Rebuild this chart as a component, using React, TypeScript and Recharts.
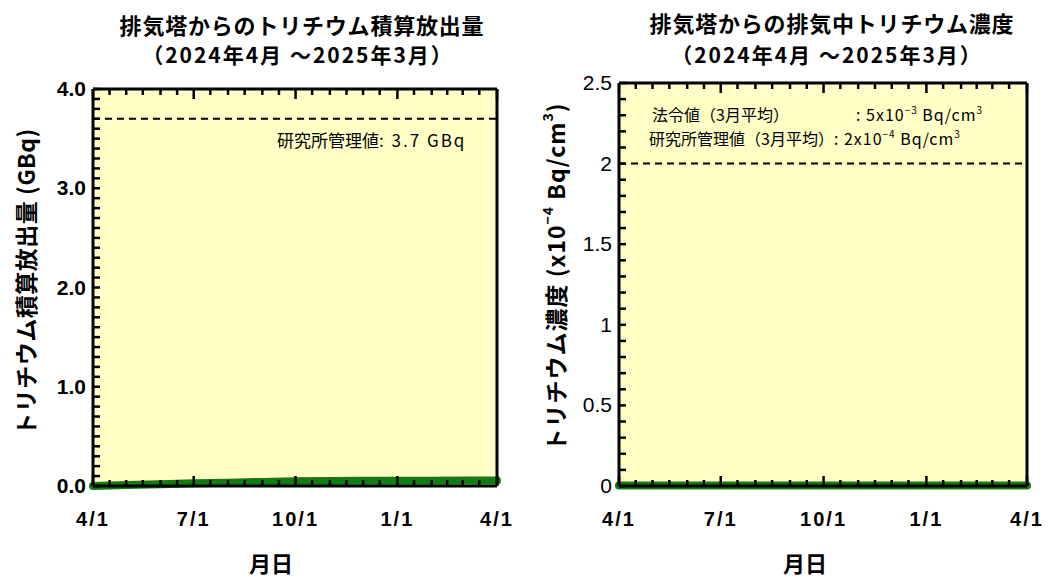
import React from 'react';
import { LineChart, Line, XAxis, YAxis, CartesianGrid, ReferenceLine } from 'recharts';

// Days since 2024-04-01 for the first of each month
const dayOffsets = [0, 30, 61, 91, 122, 153, 183, 214, 244, 275, 306, 334, 365];
// Cumulative tritium release (GBq)
const cumulativeRelease = [0, 0.009, 0.018, 0.027, 0.034, 0.041, 0.047, 0.05, 0.052, 0.053, 0.054, 0.055, 0.056];
// Tritium concentration (x10^-4 Bq/cm3)
const concentration = [0.003, 0.003, 0.003, 0.003, 0.003, 0.003, 0.003, 0.003, 0.003, 0.003, 0.003, 0.003, 0.003];

const xMinorTicks = [0, 15, 30, 45, 61, 76, 91, 106, 122, 137, 153, 168, 183, 198, 214, 229, 244, 259, 275, 290, 306, 320, 334, 349, 365];
const xMajorTicks = [0, 91, 183, 275, 365];
const xTickLabels = ['4/1', '7/1', '10/1', '1/1', '4/1'];

const leftYMajor = [0, 1, 2, 3, 4];
const leftYTickLabels = ['0.0', '1.0', '2.0', '3.0', '4.0'];
const rightYMajor = [0, 0.5, 1, 1.5, 2, 2.5];
const rightYTickLabels = ['0', '0.5', '1', '1.5', '2', '2.5'];

const releaseLimit = 3.7;
const concentrationLimit = 2;

const leftYTicks = Array.from({ length: 41 }, (_, i) => Math.round(i) / 10);
const rightYTicks = Array.from({ length: 26 }, (_, i) => Math.round(i) / 10);

const releaseData = dayOffsets.map((d, i) => ({ day: d, value: cumulativeRelease[i] }));
const concData = dayOffsets.map((d, i) => ({ day: d, value: concentration[i] }));

const BG = '#FFFFC6';
const GREEN = '#157a15';
const NUM_FONT = '"Liberation Sans", Arial, sans-serif';
const JP_FONT = '"Noto Sans CJK JP", "Noto Sans", sans-serif';

const near = (a: number, b: number) => Math.abs(a - b) < 1e-6;

const makeBottomTick = (fontWeight: any) => (props: any) => {
  const { x, y, payload } = props;
  const idx = xMajorTicks.findIndex((v) => near(v, payload.value));
  const major = idx >= 0;
  return (
    <g>
      <line x1={x} x2={x} y1={y} y2={y - (major ? 10 : 6)} stroke="#000" strokeWidth={2.5} />
      {major && (
        <text x={x} y={y + 40} textAnchor="middle" fontFamily={NUM_FONT} fontSize={20} fontWeight={fontWeight} fill="#000" letterSpacing={2}>
          {xTickLabels[idx]}
        </text>
      )}
    </g>
  );
};

const TopTick = (props: any) => {
  const { x, y, payload } = props;
  const major = xMajorTicks.some((v) => near(v, payload.value));
  return <line x1={x} x2={x} y1={y} y2={y + (major ? 10 : 6)} stroke="#000" strokeWidth={2.5} />;
};

const makeLeftTick = (majors: number[], labels: string[], fontWeight: any) => (props: any) => {
  const { x, y, payload } = props;
  const idx = majors.findIndex((v) => near(v, payload.value));
  return (
    <g>
      <line x1={x} x2={x + 7} y1={y} y2={y} stroke="#000" strokeWidth={2.5} />
      {idx >= 0 && (
        <text x={x - 7} y={y + 7} textAnchor="end" fontFamily={NUM_FONT} fontSize={21} fontWeight={fontWeight} fill="#000">
          {labels[idx]}
        </text>
      )}
    </g>
  );
};

const RightTick = (props: any) => {
  const { x, y } = props;
  return <line x1={x} x2={x - 7} y1={y} y2={y} stroke="#000" strokeWidth={2.5} />;
};

const axisLine = { stroke: '#000', strokeWidth: 3 };

const abs = (extra: React.CSSProperties): React.CSSProperties => ({
  position: 'absolute',
  whiteSpace: 'nowrap',
  color: '#000',
  lineHeight: 1,
  ...extra,
});

const centered = (cx: number, cy: number, extra: React.CSSProperties = {}): React.CSSProperties =>
  abs({ left: cx, top: cy, transform: 'translate(-50%, -50%)', ...extra });

const rotated = (cx: number, cy: number, extra: React.CSSProperties = {}): React.CSSProperties =>
  abs({ left: cx, top: cy, transform: 'translate(-50%, -50%) rotate(-90deg)', ...extra });

const supStyle: React.CSSProperties = { fontSize: 10, lineHeight: 1, verticalAlign: 'top', position: 'relative', top: -1 };
const supStyleBig: React.CSSProperties = { fontSize: 14, lineHeight: 1, verticalAlign: 'top', position: 'relative', top: -4 };

export default function App() {
  return (
    <div style={{ position: 'absolute', left: 0, top: 0, width: 1048, height: 577, background: '#fff', fontFamily: JP_FONT, overflow: 'hidden' }}>
      {/* Left chart */}
      <div style={{ position: 'absolute', left: 0, top: 0 }}>
        <LineChart width={524} height={577} data={releaseData} margin={{ top: 88, right: 26, bottom: 51, left: 0 }}>
          <CartesianGrid fill={BG} stroke="none" horizontal={false} vertical={false} />
          <XAxis xAxisId="b" dataKey="day" type="number" domain={[0, 365]} ticks={xMinorTicks} interval={0} orientation="bottom" height={40} tickSize={0} tickMargin={0} tickLine={false} axisLine={axisLine} tick={makeBottomTick('bold')} />
          <XAxis xAxisId="t" dataKey="day" type="number" domain={[0, 365]} ticks={xMinorTicks} interval={0} orientation="top" height={1} tickSize={0} tickMargin={0} tickLine={false} axisLine={axisLine} tick={TopTick} />
          <YAxis yAxisId="l" type="number" domain={[0, 4]} ticks={leftYTicks} interval={0} orientation="left" width={93} tickSize={0} tickMargin={0} tickLine={false} axisLine={axisLine} tick={makeLeftTick(leftYMajor, leftYTickLabels, 'bold')} />
          <YAxis yAxisId="r" type="number" domain={[0, 4]} ticks={leftYTicks} interval={0} orientation="right" width={1} tickSize={0} tickMargin={0} tickLine={false} axisLine={axisLine} tick={RightTick} />
          <ReferenceLine xAxisId="b" yAxisId="l" y={releaseLimit} stroke="#000" strokeWidth={2} strokeDasharray="7 5" />
          <Line xAxisId="b" yAxisId="l" type="linear" dataKey="value" stroke={GREEN} strokeWidth={8} strokeLinecap="round" dot={false} isAnimationActive={false} />
        </LineChart>
      </div>

      {/* Right chart */}
      <div style={{ position: 'absolute', left: 524, top: 0 }}>
        <LineChart width={524} height={577} data={concData} margin={{ top: 82, right: 20, bottom: 51, left: 0 }}>
          <CartesianGrid fill={BG} stroke="none" horizontal={false} vertical={false} />
          <XAxis xAxisId="b" dataKey="day" type="number" domain={[0, 365]} ticks={xMinorTicks} interval={0} orientation="bottom" height={40} tickSize={0} tickMargin={0} tickLine={false} axisLine={axisLine} tick={makeBottomTick('bold')} />
          <XAxis xAxisId="t" dataKey="day" type="number" domain={[0, 365]} ticks={xMinorTicks} interval={0} orientation="top" height={1} tickSize={0} tickMargin={0} tickLine={false} axisLine={axisLine} tick={TopTick} />
          <YAxis yAxisId="l" type="number" domain={[0, 2.5]} ticks={rightYTicks} interval={0} orientation="left" width={95} tickSize={0} tickMargin={0} tickLine={false} axisLine={axisLine} tick={makeLeftTick(rightYMajor, rightYTickLabels, 'normal')} />
          <YAxis yAxisId="r" type="number" domain={[0, 2.5]} ticks={rightYTicks} interval={0} orientation="right" width={1} tickSize={0} tickMargin={0} tickLine={false} axisLine={axisLine} tick={RightTick} />
          <ReferenceLine xAxisId="b" yAxisId="l" y={concentrationLimit} stroke="#000" strokeWidth={2} strokeDasharray="7 5" />
          <Line xAxisId="b" yAxisId="l" type="linear" dataKey="value" stroke={GREEN} strokeWidth={8} strokeLinecap="round" dot={false} isAnimationActive={false} />
        </LineChart>
      </div>

      {/* Titles */}
      <div style={centered(302, 24, { fontSize: 22, fontWeight: 'bold', letterSpacing: 0.8 })}>排気塔からのトリチウム積算放出量</div>
      <div style={centered(298, 54, { fontSize: 21, fontWeight: 'bold', letterSpacing: 2 })}>（2024年4月 ～2025年3月）</div>
      <div style={centered(832, 22, { fontSize: 22, fontWeight: 'bold', letterSpacing: 0.8 })}>排気塔からの排気中トリチウム濃度</div>
      <div style={centered(827, 54, { fontSize: 21, fontWeight: 'bold', letterSpacing: 2 })}>（2024年4月 ～2025年3月）</div>

      {/* Y axis labels */}
      <div style={rotated(25, 282, { fontSize: 23, fontWeight: 'bold', letterSpacing: 0.5 })}>トリチウム積算放出量 (GBq)</div>
      <div style={rotated(555, 277, { fontSize: 23, fontWeight: 'bold', letterSpacing: 1 })}>
        トリチウム濃度 (x10<sup style={supStyleBig}>−4</sup> Bq/cm<sup style={supStyleBig}>3</sup>)
      </div>

      {/* X axis labels */}
      <div style={centered(271, 562, { fontSize: 22, fontWeight: 'bold' })}>月日</div>
      <div style={centered(805, 562, { fontSize: 22, fontWeight: 'bold' })}>月日</div>

      {/* Annotations */}
      <div style={abs({ left: 277, top: 131, fontSize: 17 })}>
        研究所管理値<span style={{ letterSpacing: 2 }}>: 3.7 GBq</span>
      </div>
      <div style={abs({ left: 652, top: 106, fontSize: 16 })}>法令値（3月平均）</div>
      <div style={abs({ left: 856, top: 106, fontSize: 16, letterSpacing: 1 })}>
        : 5x10<sup style={supStyle}>−3</sup> Bq/cm<sup style={supStyle}>3</sup>
      </div>
      <div style={abs({ left: 649, top: 130, fontSize: 16 })}>
        研究所管理値（3月平均）<span style={{ letterSpacing: 1 }}>: 2x10<sup style={supStyle}>−4</sup> Bq/cm<sup style={supStyle}>3</sup></span>
      </div>
    </div>
  );
}
